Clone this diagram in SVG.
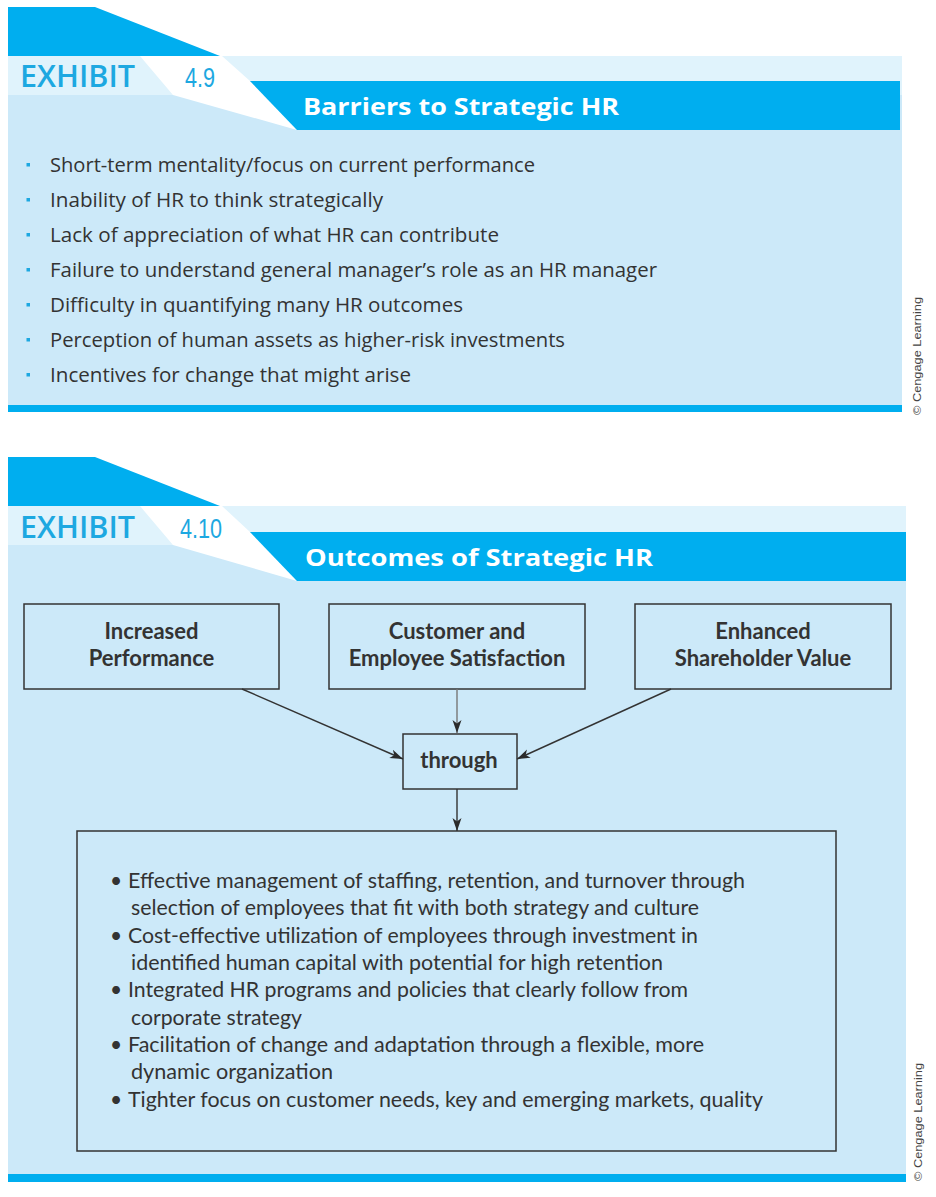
<svg xmlns="http://www.w3.org/2000/svg" width="936" height="1197" viewBox="0 0 936 1197">
<style>
.tab{fill:#00aeef}
.band{fill:#e0f3fc}
.body{fill:#cce9f9}
.wedge{fill:#ffffff}
.exh{font-family:"Open Sans","Liberation Sans",sans-serif;font-size:31px;font-weight:600;fill:#1da8e1}
.num{font-family:"Liberation Sans",Arial,sans-serif;font-size:28px;fill:#1da8e1}
.title{font-family:"Open Sans","Liberation Sans",sans-serif;font-size:24px;font-weight:700;fill:#ffffff}
.b1{font-family:"Open Sans","Liberation Sans",sans-serif;font-size:20px;fill:#333333}
.dot{fill:#1da8e1}
.copy{font-family:"Liberation Sans",Arial,sans-serif;font-size:11.5px;fill:#444}
.box{fill:none;stroke:#333;stroke-width:1.5}
.lbl{font-family:"Lato","Liberation Sans",sans-serif;font-size:22px;font-weight:700;fill:#333;text-anchor:middle}
.b2{font-family:"Lato","Liberation Sans",sans-serif;font-size:21px;fill:#333}
.conn{stroke:#333;stroke-width:1.4;fill:none}
</style>
<defs>
<marker id="ah" markerWidth="14" markerHeight="10" refX="13" refY="5" orient="auto" markerUnits="userSpaceOnUse">
<path d="M0,0.5 L13,5 L0,9.5 L3.5,5 z" fill="#2b2b2b"/>
</marker>
</defs>
<rect width="936" height="1197" fill="#ffffff"/>

<!-- Exhibit 4.9 -->
<g id="exhibit-4-9">
<rect class="body" x="8" y="95" width="894" height="312"/>
<rect class="band" x="8" y="56" width="894" height="39"/>
<polygon class="wedge" points="140,56 222,56 250,81 297,130 173,95"/>
<polygon class="tab" points="8,7 95,7 220,56 8,56"/>
<polygon class="tab" points="250,81 900,81 900,130 297,130"/>
<rect class="tab" x="8" y="405" width="894" height="7"/>
<text class="exh" x="20" y="87" textLength="115" lengthAdjust="spacingAndGlyphs">EXHIBIT</text>
<text class="num" x="185" y="87" textLength="30" lengthAdjust="spacingAndGlyphs">4.9</text>
<text class="title" x="303" y="115" textLength="316" lengthAdjust="spacingAndGlyphs">Barriers to Strategic HR</text>
</g>

<g id="barriers-list">
<rect class="dot" x="26.5" y="163" width="3.5" height="3.5"/>
<rect class="dot" x="26.5" y="198" width="3.5" height="3.5"/>
<rect class="dot" x="26.5" y="233" width="3.5" height="3.5"/>
<rect class="dot" x="26.5" y="268" width="3.5" height="3.5"/>
<rect class="dot" x="26.5" y="303" width="3.5" height="3.5"/>
<rect class="dot" x="26.5" y="338" width="3.5" height="3.5"/>
<rect class="dot" x="26.5" y="373" width="3.5" height="3.5"/>
<text class="b1" x="50" y="172" textLength="485" lengthAdjust="spacingAndGlyphs">Short-term mentality/focus on current performance</text>
<text class="b1" x="50" y="207" textLength="333" lengthAdjust="spacingAndGlyphs">Inability of HR to think strategically</text>
<text class="b1" x="50" y="242" textLength="449" lengthAdjust="spacingAndGlyphs">Lack of appreciation of what HR can contribute</text>
<text class="b1" x="50" y="277" textLength="607" lengthAdjust="spacingAndGlyphs">Failure to understand general manager’s role as an HR manager</text>
<text class="b1" x="50" y="312" textLength="413" lengthAdjust="spacingAndGlyphs">Difficulty in quantifying many HR outcomes</text>
<text class="b1" x="50" y="347" textLength="515" lengthAdjust="spacingAndGlyphs">Perception of human assets as higher-risk investments</text>
<text class="b1" x="50" y="382" textLength="361" lengthAdjust="spacingAndGlyphs">Incentives for change that might arise</text>
</g>
<text class="copy" transform="translate(921,415) rotate(-90)" textLength="118" lengthAdjust="spacingAndGlyphs">© Cengage Learning</text>

<!-- Exhibit 4.10 -->
<g id="exhibit-4-10">
<rect class="body" x="8" y="545" width="898" height="631"/>
<rect class="band" x="8" y="506" width="898" height="39"/>
<polygon class="wedge" points="140,506 222,506 250,532 297,581 173,545"/>
<polygon class="tab" points="8,457 95,457 220,506 8,506"/>
<polygon class="tab" points="250,532 906,532 906,581 297,581"/>
<rect class="tab" x="8" y="1174" width="898" height="8"/>
<text class="exh" x="20" y="538" textLength="115" lengthAdjust="spacingAndGlyphs">EXHIBIT</text>
<text class="num" x="180" y="538" textLength="42" lengthAdjust="spacingAndGlyphs">4.10</text>
<text class="title" x="305" y="566" textLength="348" lengthAdjust="spacingAndGlyphs">Outcomes of Strategic HR</text>
</g>

<g id="increased-performance">
<rect class="box" x="24" y="604" width="255" height="85"/>
<text class="lbl" x="151.5" y="639">Increased</text>
<text class="lbl" x="151.5" y="666">Performance</text>
</g>
<g id="customer-employee-satisfaction">
<rect class="box" x="329" y="604" width="256" height="85"/>
<text class="lbl" x="457" y="639">Customer and</text>
<text class="lbl" x="457" y="666">Employee Satisfaction</text>
</g>
<g id="enhanced-shareholder-value">
<rect class="box" x="635" y="604" width="256" height="85"/>
<text class="lbl" x="763" y="639">Enhanced</text>
<text class="lbl" x="763" y="666">Shareholder Value</text>
</g>
<g id="through">
<rect class="box" x="403" y="734" width="114" height="55"/>
<text class="lbl" x="459" y="768">through</text>
</g>
<g id="outcomes-list">
<rect class="box" x="77" y="831" width="759" height="320"/>
<g class="b2">
<text x="110" y="888">•</text>
<text x="110" y="943">•</text>
<text x="110" y="997">•</text>
<text x="110" y="1052">•</text>
<text x="110" y="1107">•</text>
<text x="128" y="888" textLength="617" lengthAdjust="spacingAndGlyphs">Effective management of staffing, retention, and turnover through</text>
<text x="131" y="915" textLength="568" lengthAdjust="spacingAndGlyphs">selection of employees that fit with both strategy and culture</text>
<text x="128" y="943" textLength="570" lengthAdjust="spacingAndGlyphs">Cost-effective utilization of employees through investment in</text>
<text x="131" y="970" textLength="532" lengthAdjust="spacingAndGlyphs">identified human capital with potential for high retention</text>
<text x="128" y="997" textLength="560" lengthAdjust="spacingAndGlyphs">Integrated HR programs and policies that clearly follow from</text>
<text x="131" y="1025" textLength="171" lengthAdjust="spacingAndGlyphs">corporate strategy</text>
<text x="128" y="1052" textLength="576" lengthAdjust="spacingAndGlyphs">Facilitation of change and adaptation through a flexible, more</text>
<text x="131" y="1079" textLength="202" lengthAdjust="spacingAndGlyphs">dynamic organization</text>
<text x="128" y="1107" textLength="635" lengthAdjust="spacingAndGlyphs">Tighter focus on customer needs, key and emerging markets, quality</text>
</g>
</g>

<g id="connectors">
<line class="conn" x1="242" y1="689" x2="403" y2="759" marker-end="url(#ah)"/>
<line class="conn" x1="457" y1="689" x2="457" y2="733" marker-end="url(#ah)" style="stroke:#777"/>
<line class="conn" x1="671" y1="689" x2="517" y2="759" marker-end="url(#ah)"/>
<line class="conn" x1="457" y1="789" x2="457" y2="831" marker-end="url(#ah)"/>
</g>
<text class="copy" transform="translate(922,1181) rotate(-90)" textLength="118" lengthAdjust="spacingAndGlyphs">© Cengage Learning</text>
</svg>
